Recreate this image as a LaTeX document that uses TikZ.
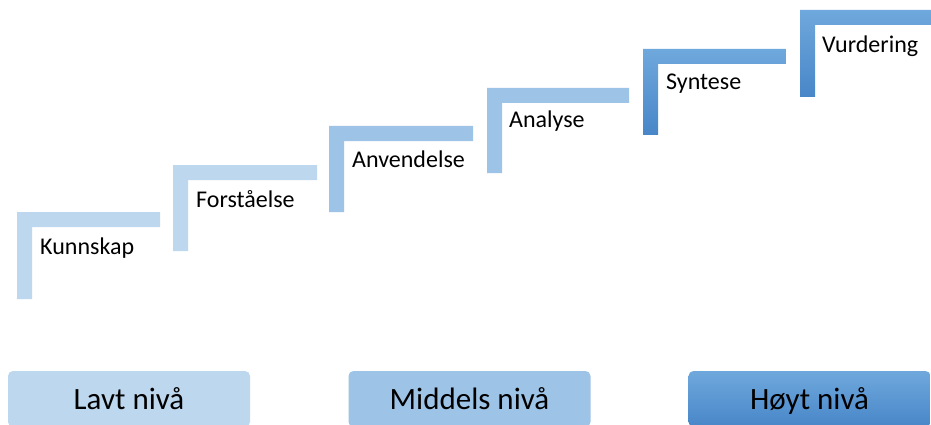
\documentclass[tikz,border=0pt]{standalone}
\usepackage{fontspec}
\setmainfont{Carlito}
\usetikzlibrary{positioning}
\definecolor{lowblue}{HTML}{BDD7EE}
\definecolor{midblue}{HTML}{9DC3E6}
\definecolor{hightop}{HTML}{6FA8DC}
\definecolor{highbottom}{HTML}{4886C8}
\tikzset{
    low step/.style = {
        fill = lowblue,
        },
    mid step/.style = {
        fill = midblue,
        },
    high step/.style = {
        top color = hightop,
        bottom color = highbottom,
        },
    step label/.style = {
        anchor = base west,
        inner sep = 0pt,
        font = \fontsize{24}{28}\selectfont,
        },
    level box/.style = {
        rounded corners = 5pt,
        minimum width = 242pt,
        minimum height = 56pt,
        inner sep = 0pt,
        text height = 20pt,
        text depth = 0pt,
        font = \fontsize{31}{36}\selectfont,
        },
}

\begin{document}
\begin{tikzpicture}[x=1pt, y=-1pt]
            \clip (0,0) rectangle (931,425);

            % the stairs, lowest first
            \path[low step] (17,299) -- (17,212) -- (160,212) -- (160,227) -- (32,227) -- (32,299) -- cycle;
            \path[low step] (173,251) -- (173,165) -- (317,165) -- (317,180) -- (188,180) -- (188,251) -- cycle;
            \path[mid step] (329,212) -- (329,126) -- (473,126) -- (473,141) -- (344,141) -- (344,212) -- cycle;
            \path[mid step] (487,173) -- (487,88) -- (629,88) -- (629,103) -- (502,103) -- (502,173) -- cycle;
            \path[high step] (643,135) -- (643,49) -- (786,49) -- (786,64) -- (658,64) -- (658,135) -- cycle;
            \path[high step] (800,97) -- (800,10) -- (940,10) -- (940,25) -- (815,25) -- (815,97) -- cycle;

            \node[step label] (kunnskap) at (40,254) {Kunnskap};
            \node[step label] (forstaaelse) at (196,207) {Forståelse};
            \node[step label] (anvendelse) at (352,167) {Anvendelse};
            \node[step label] (analyse) at (509,128) {Analyse};
            \node[step label] (syntese) at (666,90) {Syntese};
            \node[step label] (vurdering) at (822,53) {Vurdering};

            % levels at the bottom
            \node[level box, fill = lowblue] (lavt) at (129,399) {Lavt nivå};
            \node[level box, fill = midblue] (middels) at (469.5,399) {Middels nivå};
            \node[level box, top color = hightop, bottom color = highbottom] (hoyt) at (809.5,399) {Høyt nivå};
        \end{tikzpicture}
\end{document}
